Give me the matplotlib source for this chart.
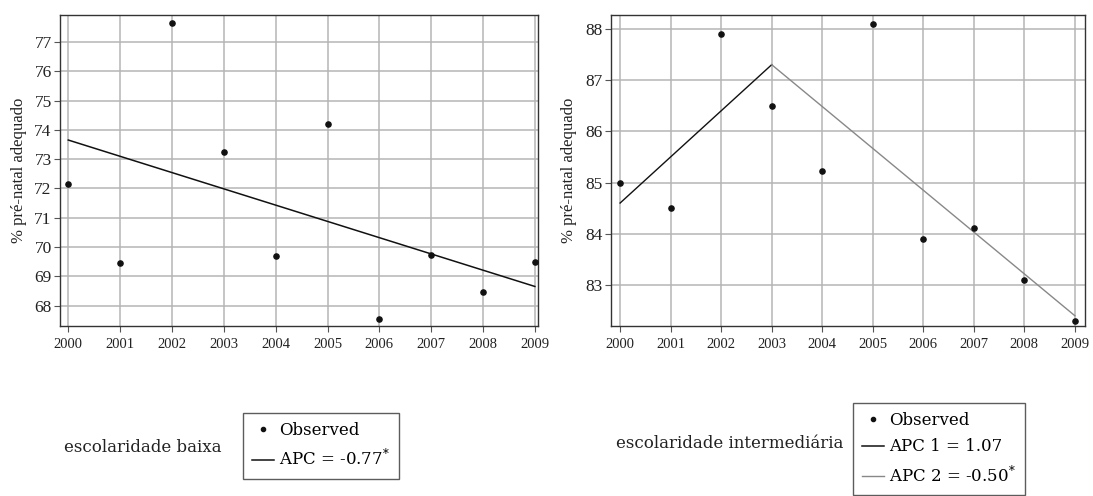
import matplotlib.pyplot as plt
from matplotlib.lines import Line2D

plt.rcParams['font.family'] = ['Liberation Serif', 'DejaVu Serif']
plt.rcParams['mathtext.fontset'] = 'dejavuserif'

years = [2000, 2001, 2002, 2003, 2004, 2005, 2006, 2007, 2008, 2009]

# escolaridade baixa
baixa_obs = [72.15, 69.45, 77.65, 73.25, 69.7, 74.2, 67.55, 69.72, 68.47, 69.5]
baixa_fit_x = [2000, 2009]
baixa_fit_y = [73.65, 68.65]

# escolaridade intermediaria
inter_obs = [85.0, 84.5, 87.9, 86.5, 85.22, 88.1, 83.9, 84.12, 83.1, 82.3]
inter_seg1_x = [2000, 2003]
inter_seg1_y = [84.6, 87.3]
inter_seg2_x = [2003, 2009]
inter_seg2_y = [87.3, 82.4]

baixa_yticks = [68, 69, 70, 71, 72, 73, 74, 75, 76, 77]
inter_yticks = [83, 84, 85, 86, 87, 88]

fig = plt.figure(figsize=(10.93, 4.96), dpi=100)
ax1 = fig.add_axes([60 / 1093, 1 - 326 / 496, 478 / 1093, 311 / 496])
ax2 = fig.add_axes([611 / 1093, 1 - 326 / 496, 474 / 1093, 311 / 496])


def style(ax, yticks, ylim, xlim):
    ax.set_xticks(years)
    ax.set_yticks(yticks)
    ax.set_xlim(*xlim)
    ax.set_ylim(*ylim)
    ax.grid(True, color='#b5b5b5', lw=1.1)
    ax.set_axisbelow(True)
    ax.tick_params(axis='x', labelsize=10.5, length=4, pad=5)
    ax.tick_params(axis='y', labelsize=12.5, length=4, pad=2)
    ax.tick_params(color='#555555', labelcolor='#222222')
    for s in ax.spines.values():
        s.set_color('#333333')
        s.set_linewidth(1)
    ax.set_ylabel('% pré-natal adequado', fontsize=12, color='#222222')


ax1.scatter(years, baixa_obs, s=14, color='#111111', zorder=3)
ax1.plot(baixa_fit_x, baixa_fit_y, color='#111111', lw=1.1)
style(ax1, baixa_yticks, (67.3, 77.92), (1999.84, 2009.06))
ax1.yaxis.set_label_coords(-0.068, 0.5)

ax2.scatter(years, inter_obs, s=14, color='#111111', zorder=3)
ax2.plot(inter_seg1_x, inter_seg1_y, color='#111111', lw=1.0)
ax2.plot(inter_seg2_x, inter_seg2_y, color='#888888', lw=1.0)
style(ax2, inter_yticks, (82.2, 88.27), (1999.82, 2009.2))
ax2.yaxis.set_label_coords(-0.072, 0.5)

dot = Line2D([], [], marker='o', ms=3, ls='none', color='#111111')
blk = Line2D([], [], color='#111111', lw=1.1)
gry = Line2D([], [], color='#888888', lw=1.0)

leg_kw = dict(prop={'family': 'DejaVu Serif', 'size': 12}, frameon=True,
              fancybox=False, edgecolor='#333333',
              handlelength=1.3, handletextpad=0.3, borderpad=0.55,
              labelspacing=0.55, borderaxespad=0)

l1 = fig.legend([dot, blk], ['Observed', r'APC = -0.77$^{*}$'],
                loc='upper left', bbox_to_anchor=(243 / 1093, 1 - 413 / 496), **leg_kw)
l1.get_frame().set_linewidth(1)
fig.text(222 / 1093, 1 - 447 / 496, 'escolaridade baixa', fontsize=12,
         family='DejaVu Serif', ha='right', va='center', color='#222222')

l2 = fig.legend([dot, blk, gry], ['Observed', 'APC 1 = 1.07', r'APC 2 = -0.50$^{*}$'],
                loc='upper left', bbox_to_anchor=(853 / 1093, 1 - 403 / 496), **leg_kw)
l2.get_frame().set_linewidth(1)
fig.text(843 / 1093, 1 - 443 / 496, 'escolaridade intermediária', fontsize=12,
         family='DejaVu Serif', ha='right', va='center', color='#222222')

fig.savefig('out.png', dpi=100)
